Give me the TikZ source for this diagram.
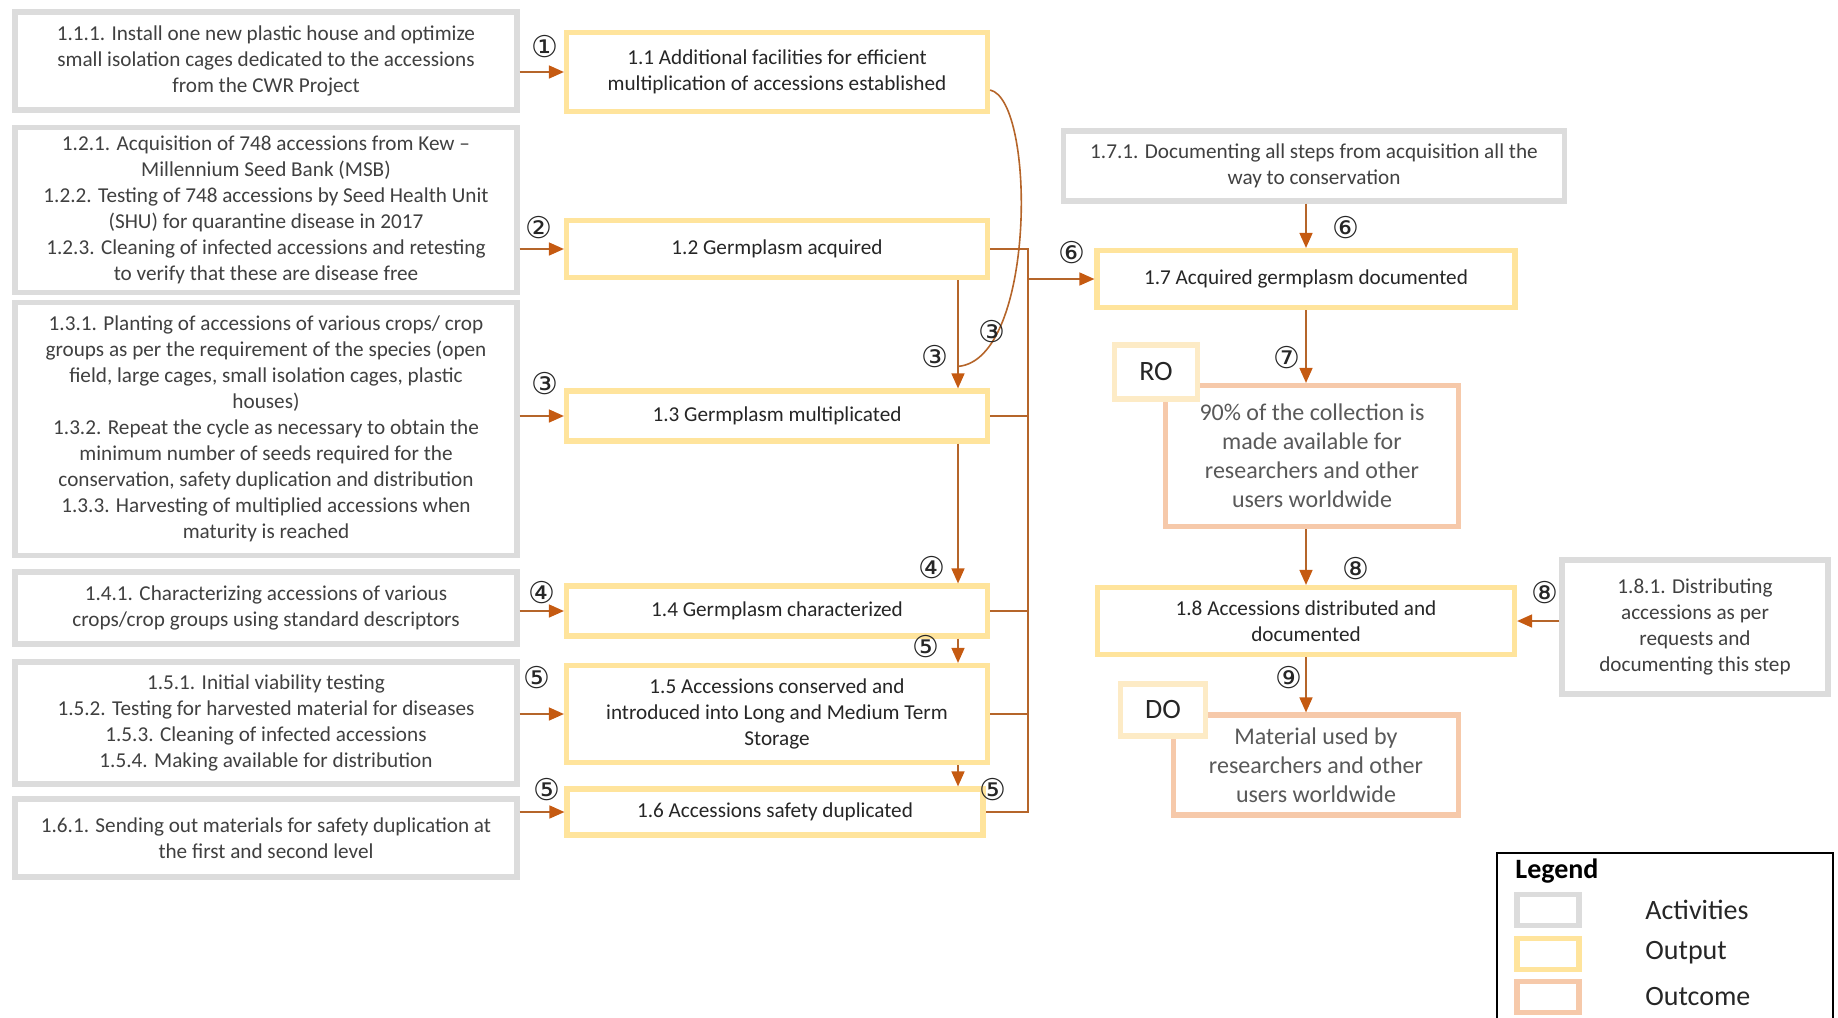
\documentclass[tikz,border=0pt]{standalone}
\usepackage{fontspec}
\setmainfont{Carlito}
\newfontfamily\circfont{DejaVu Sans}
\usetikzlibrary{arrows.meta,calc}
\definecolor{actgray}{HTML}{DCDCDC}
\definecolor{outyellow}{HTML}{FFE49C}
\definecolor{outcpink}{HTML}{F6C9AA}
\definecolor{tagpeach}{HTML}{FDEBC6}
\definecolor{linebrown}{HTML}{B5652A}
\definecolor{tipbrown}{HTML}{C55A11}
\definecolor{txtgray}{HTML}{404040}

\begin{document}
\begin{tikzpicture}[x=0.5pt,y=-0.5pt,
    box/.style={draw, line width=2.6pt, fill=white, inner sep=2pt, align=center,
      font=\fontsize{10.6}{13}\selectfont},
    activity/.style={box, draw=actgray, text=txtgray, minimum width=251pt},
    output/.style={box, draw=outyellow, text=black!85, minimum width=210.5pt},
    outcome/.style={box, draw=outcpink, text=black!65, font=\fontsize{12}{14.5}\selectfont},
    tag/.style={box, draw=tagpeach, text=black!85, font=\fontsize{14}{16}\selectfont},
    swatch/.style={draw, line width=2.6pt, minimum width=31pt, minimum height=15.5pt, inner sep=0pt},
    legtext/.style={anchor=west, inner sep=0pt, text=black!85, font=\fontsize{14}{16}\selectfont},
    num/.style={inner sep=0pt, text=black!85, font=\circfont\fontsize{15}{15}\selectfont},
    conn/.style={draw=linebrown, line width=0.8pt},
    arr/.style={conn, -{Triangle[length=7.5pt,width=6.5pt,color=tipbrown]}}]
  \useasboundingbox (0,0) rectangle (1838,1018);

  \node[activity, minimum height=49pt] (a111) at (266,61) {1.1.1. Install one new plastic house and optimize\\ small isolation cages dedicated to the accessions\\ from the CWR Project};
  \node[activity, minimum height=82.5pt] (a12) at (266,210) {1.2.1. Acquisition of 748 accessions from Kew --\\ Millennium Seed Bank (MSB)\\ 1.2.2. Testing of 748 accessions by Seed Health Unit\\ (SHU) for quarantine disease in 2017\\ 1.2.3. Cleaning of infected accessions and retesting\\ to verify that these are disease free};
  \node[activity, minimum height=126.5pt] (a13) at (266,429) {1.3.1. Planting of accessions of various crops/ crop\\ groups as per the requirement of the species (open\\ field, large cages, small isolation cages, plastic\\ houses)\\ 1.3.2. Repeat the cycle as necessary to obtain the\\ minimum number of seeds required for the\\ conservation, safety duplication and distribution\\ 1.3.3. Harvesting of multiplied accessions when\\ maturity is reached};
  \node[activity, minimum height=36pt] (a14) at (266,608) {1.4.1. Characterizing accessions of various\\ crops/crop groups using standard descriptors};
  \node[activity, minimum height=61pt] (a15) at (266,723) {1.5.1. Initial viability testing\\ 1.5.2. Testing for harvested material for diseases\\ 1.5.3. Cleaning of infected accessions\\ 1.5.4. Making available for distribution};
  \node[activity, minimum height=39pt] (a16) at (266,838) {1.6.1. Sending out materials for safety duplication at\\ the first and second level};

  \node[output, minimum height=39.5pt] (o11) at (777,72) {1.1 Additional facilities for efficient\\ multiplication of accessions established};
  \node[output, minimum height=28.5pt] (o12) at (777,249) {1.2 Germplasm acquired};
  \node[output, minimum height=25pt] (o13) at (777,416) {1.3 Germplasm multiplicated};
  \node[output, minimum height=25pt] (o14) at (777,611) {1.4 Germplasm characterized};
  \node[output, minimum height=48.5pt] (o15) at (777,714) {1.5 Accessions conserved and\\ introduced into Long and Medium Term\\ Storage};
  \node[output, minimum width=208pt, minimum height=23pt] (o16) at (775,812) {1.6 Accessions safety duplicated};

  \node[activity, minimum width=250.5pt, minimum height=35pt] (a171) at (1314,166) {1.7.1. Documenting all steps from acquisition all the\\ way to conservation};
  \node[output, minimum width=209pt, minimum height=28.5pt] (o17) at (1306,279) {1.7 Acquired germplasm documented};
  \node[outcome, minimum width=146.5pt, minimum height=70.5pt] (ro) at (1312,456) {90\% of the collection is\\ made available for\\ researchers and other\\ users worldwide};
  \node[tag, minimum width=41.5pt, minimum height=27pt] (rotag) at (1156,372) {RO};
  \node[output, minimum width=208.5pt, minimum height=33.5pt] (o18) at (1306,621) {1.8 Accessions distributed and\\ documented};
  \node[activity, minimum width=133pt, minimum height=67pt] (a181) at (1695,627) {1.8.1. Distributing\\ accessions as per\\ requests and\\ documenting this step};
  \node[outcome, minimum width=142.5pt, minimum height=50pt] (do) at (1316,765) {Material used by\\ researchers and other\\ users worldwide};
  \node[tag, minimum width=42.5pt, minimum height=26pt] (dotag) at (1163,710) {DO};

  \draw[arr] (a111.east |- o11) -- (o11.west);
  \draw[arr] (a12.east |- o12) -- (o12.west);
  \draw[arr] (a13.east |- o13) -- (o13.west);
  \draw[arr] (a14.east |- o14) -- (o14.west);
  \draw[arr] (a15.east |- o15) -- (o15.west);
  \draw[arr] (a16.east |- o16) -- (o16.west);

  \coordinate (mid) at (958,0);
  \coordinate (bus) at (1028,250);
  \draw[arr] (o12.south -| mid) -- (o13.north -| mid);
  \draw[conn] ($(o11.east)+(0,18)$) .. controls (1036,100) and (1036,360) .. ($(o13.north -| mid)+(0,-22)$);
  \draw[arr] (o13.south -| mid) -- (o14.north -| mid);
  \draw[arr] (o14.south -| mid) -- (o15.north -| mid);
  \draw[arr] (o15.south -| mid) -- (o16.north -| mid);

  \draw[conn] (o12.east) -- (o12.east -| bus) -- (o16.east -| bus) -- (o16.east);
  \draw[conn] (o13.east) -- (o13.east -| bus);
  \draw[conn] (o14.east) -- (o14.east -| bus);
  \draw[conn] (o15.east) -- (o15.east -| bus);
  \draw[arr] (bus |- o17.west) -- (o17.west);

  \draw[arr] (o17.north |- a171.south) -- (o17.north);
  \draw[arr] (o17.south) -- (o17.south |- ro.north);
  \draw[arr] (o18.north |- ro.south) -- (o18.north);
  \draw[arr] (a181.west |- o18) -- (o18.east);
  \draw[arr] (o18.south) -- (o18.south |- do.north);

  \node[num] (n1) at (545,47) {①};
  \node[num] (n2) at (539,228) {②};
  \node[num] (n3) at (545,384) {③};
  \node[num] (n4) at (542,593) {④};
  \node[num] (n5) at (537,678) {⑤};
  \node[num] (n5b) at (547,790) {⑤};
  \node[num] (m3) at (935,357) {③};
  \node[num] (m3b) at (992,332) {③};
  \node[num] (m4) at (932,568) {④};
  \node[num] (m5) at (926,647) {⑤};
  \node[num] (m5b) at (993,790) {⑤};
  \node[num] (r6) at (1072,253) {⑥};
  \node[num] (r6b) at (1346,228) {⑥};
  \node[num] (r7) at (1287,358) {⑦};
  \node[num] (r8) at (1356,569) {⑧};
  \node[num] (r8b) at (1545,593) {⑧};
  \node[num] (r9) at (1289,678) {⑨};

  \draw[line width=0.8pt] (1497,1025) |- (1833,853) -- (1833,1025);
  \node[anchor=west, inner sep=0pt, font=\bfseries\fontsize{14}{16}\selectfont] (legend) at (1515,871) {Legend};
  \node[swatch, draw=actgray] (sw1) at (1548,910) {};
  \node[swatch, draw=outyellow] (sw2) at (1548,954) {};
  \node[swatch, draw=outcpink] (sw3) at (1548,997) {};
  \node[legtext] (l1) at (1645,910) {Activities};
  \node[legtext] (l2) at (1645,953) {Output};
  \node[legtext] (l3) at (1645,997) {Outcome};
\end{tikzpicture}
\end{document}
